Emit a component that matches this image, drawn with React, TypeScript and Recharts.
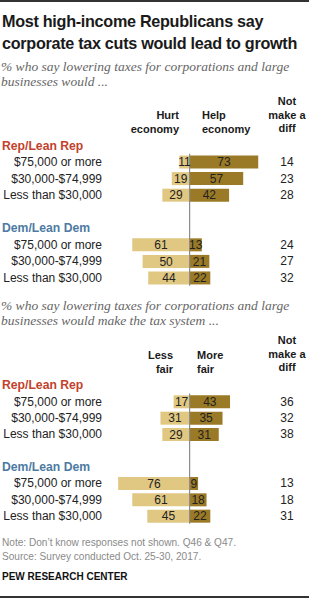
import React from "react";
import { BarChart, Bar, XAxis, YAxis, LabelList, ReferenceLine } from "recharts";

const groups = ["Rep/Lean Rep", "Dem/Lean Dem"];
const incomes = ["$75,000 or more", "$30,000-$74,999", "Less than $30,000"];

// Rep rows first, then Dem rows, in income order
const hurtEconomy = [11, 19, 29, 61, 50, 44];
const helpEconomy = [73, 57, 42, 13, 21, 22];
const noDiffEconomy = [14, 23, 28, 24, 27, 32];

const lessFair = [17, 31, 29, 76, 61, 45];
const moreFair = [43, 35, 31, 9, 18, 22];
const noDiffFair = [36, 32, 38, 13, 18, 31];

const LIGHT = "#e0c782";
const DARK = "#9a7a26";
const GROUP_COLORS = ["#c3412c", "#4d7aa2"];
const FONT = "'Liberation Sans', Arial, sans-serif";

type Row = {
  key: string;
  kind: "group" | "gap" | "row";
  label?: string;
  group?: number;
  left?: number | null;
  right?: number | null;
  leftLabel?: number;
  rightLabel?: number;
  noDiff?: number;
};

function buildRows(left: number[], right: number[], noDiff: number[]): Row[] {
  const rows: Row[] = [];
  groups.forEach((g, gi) => {
    if (gi > 0) rows.push({ key: "gap" + gi, kind: "gap", left: null, right: null });
    rows.push({ key: g, kind: "group", label: g, group: gi, left: null, right: null });
    incomes.forEach((inc, ii) => {
      const i = gi * incomes.length + ii;
      rows.push({
        key: g + "|" + inc,
        kind: "row",
        label: inc,
        left: -left[i],
        right: right[i],
        leftLabel: left[i],
        rightLabel: right[i],
        noDiff: noDiff[i],
      });
    });
  });
  return rows;
}

const economyRows = buildRows(hurtEconomy, helpEconomy, noDiffEconomy);
const fairRows = buildRows(lessFair, moreFair, noDiffFair);

// eslint-disable-next-line @typescript-eslint/no-explicit-any
function RowTick({ y, payload, rows }: any) {
  const row: Row | undefined = rows.find((r: Row) => r.key === payload.value);
  if (!row || row.kind === "gap") return null;
  if (row.kind === "group") {
    return (
      <text x={2} y={y} dy="0.35em" fill={GROUP_COLORS[row.group ?? 0]} fontSize={12.2} fontWeight="bold">
        {row.label}
      </text>
    );
  }
  return (
    <g>
      <text x={102} y={y} dy="0.35em" textAnchor="end" fill="#222" fontSize={12}>
        {row.label}
      </text>
      <text x={287} y={y} dy="0.35em" textAnchor="middle" fill="#222" fontSize={12}>
        {row.noDiff}
      </text>
    </g>
  );
}

// eslint-disable-next-line @typescript-eslint/no-explicit-any
function ZeroLine(p: any) {
  return <line x1={p.x1} x2={p.x2} y1={p.y1 - 8} y2={p.y2 + 8} stroke="#8c8c8c" strokeWidth={1.2} />;
}

function DivergingPanel({ rows, height }: { rows: Row[]; height: number }) {
  const firstRow = rows.find((r) => r.kind === "row")!.key;
  const lastRow = rows[rows.length - 1].key;
  return (
    <BarChart
      width={309}
      height={height}
      data={rows}
      layout="vertical"
      stackOffset="sign"
      barSize={13}
      margin={{ top: 0, right: 0, bottom: 0, left: 0 }}
    >
      <XAxis type="number" domain={[-90, 127]} hide allowDataOverflow />
      <YAxis
        type="category"
        dataKey="key"
        width={105}
        interval={0}
        axisLine={false}
        tickLine={false}
        tick={<RowTick rows={rows} />}
      />
      <Bar dataKey="left" stackId="s" fill={LIGHT} isAnimationActive={false}>
        <LabelList dataKey="leftLabel" position="center" fill="#222" fontSize={12} />
      </Bar>
      <Bar dataKey="right" stackId="s" fill={DARK} isAnimationActive={false}>
        <LabelList dataKey="rightLabel" position="center" fill="#222" fontSize={12} />
      </Bar>
      <ReferenceLine
        segment={[
          { x: 0, y: firstRow },
          { x: 0, y: lastRow },
        ]}
        shape={ZeroLine}
      />
    </BarChart>
  );
}

const abs = (top: number): React.CSSProperties => ({ position: "absolute", top, whiteSpace: "nowrap" });

const headerStyle: React.CSSProperties = {
  fontWeight: "bold",
  fontSize: 11,
  lineHeight: "13.5px",
  color: "#1a1a1a",
};

const subtitleStyle: React.CSSProperties = {
  left: 1,
  fontFamily: "'Liberation Serif', serif",
  fontStyle: "italic",
  fontSize: 13.5,
  color: "#666",
};

export default function App() {
  return (
    <div
      style={{
        position: "absolute",
        left: 0,
        top: 0,
        width: 309,
        height: 599,
        background: "#fff",
        fontFamily: FONT,
        overflow: "hidden",
      }}
    >
      <div style={{ ...abs(0), left: 0, width: 309, height: 2, background: "#333" }} />
      <div
        style={{
          ...abs(11),
          left: 2,
          fontSize: 16.2,
          fontWeight: "bold",
          letterSpacing: -0.3,
          lineHeight: "21.5px",
          color: "#1a1a1a",
        }}
      >
        Most high-income Republicans say
        <br />
        corporate tax cuts would lead to growth
      </div>
      <div style={{ ...abs(60), ...subtitleStyle, lineHeight: "14.5px" }}>
        % who say lowering taxes for corporations and large
        <br />
        businesses would ...
      </div>

      {/* economy panel headers */}
      <div style={{ ...abs(109), right: 309 - 179, textAlign: "right", ...headerStyle }}>
        Hurt
        <br />
        economy
      </div>
      <div style={{ ...abs(109), left: 202, ...headerStyle }}>
        Help
        <br />
        economy
      </div>
      <div style={{ ...abs(95), left: 287, transform: "translateX(-50%)", textAlign: "center", ...headerStyle }}>
        Not
        <br />
        make a
        <br />
        diff
      </div>
      <div style={{ ...abs(137), left: 0 }}>
        <DivergingPanel rows={economyRows} height={149} />
      </div>

      <div style={{ ...abs(298), ...subtitleStyle, lineHeight: "15px" }}>
        % who say lowering taxes for corporations and large
        <br />
        businesses would make the tax system ...
      </div>

      {/* tax system panel headers */}
      <div style={{ ...abs(349), right: 309 - 173, textAlign: "right", ...headerStyle }}>
        Less
        <br />
        fair
      </div>
      <div style={{ ...abs(349), left: 197, ...headerStyle }}>
        More
        <br />
        fair
      </div>
      <div style={{ ...abs(334), left: 287, transform: "translateX(-50%)", textAlign: "center", ...headerStyle }}>
        Not
        <br />
        make a
        <br />
        diff
      </div>
      <div style={{ ...abs(377), left: 0 }}>
        <DivergingPanel rows={fairRows} height={147} />
      </div>

      <div style={{ ...abs(536), left: 2, fontSize: 10.1, lineHeight: "14px", color: "#8a8a8a" }}>
        Note: Don’t know responses not shown. Q46 &amp; Q47.
        <br />
        Source: Survey conducted Oct. 25-30, 2017.
      </div>
      <div style={{ ...abs(570), left: 2, fontSize: 10, fontWeight: "bold", lineHeight: "14px", color: "#111" }}>
        PEW RESEARCH CENTER
      </div>
      <div style={{ ...abs(596), left: 0, width: 309, height: 1.5, background: "#333" }} />
    </div>
  );
}
